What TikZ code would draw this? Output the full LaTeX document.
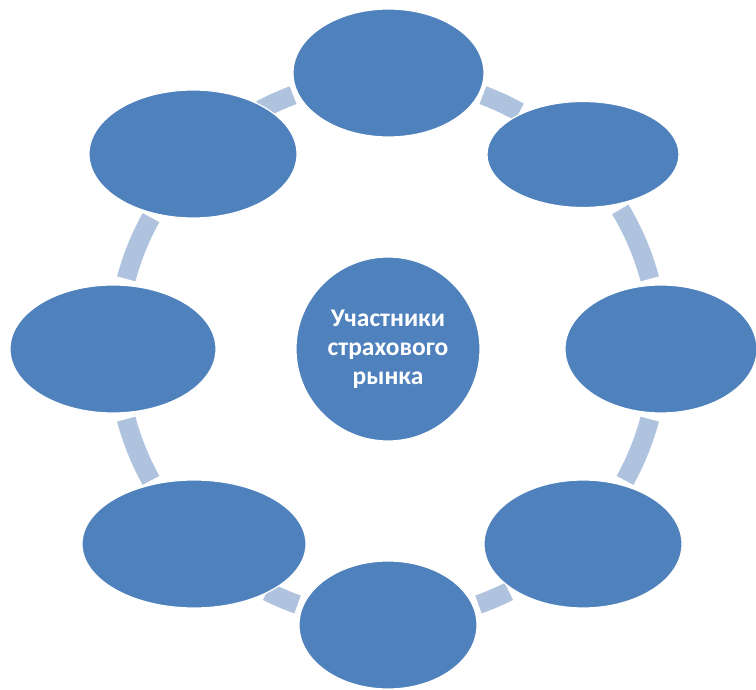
\documentclass[tikz,border=0pt]{standalone}
\usepackage{fontspec}
\setmainfont[BoldFont={Carlito Bold}]{Carlito}
\usetikzlibrary{shapes.geometric}
\definecolor{nodeblue}{RGB}{79,129,189}
\definecolor{ringblue}{RGB}{176,195,222}
\tikzset{
  oval/.style={ellipse, fill=nodeblue, draw=white, line width=1.2pt, inner sep=0pt},
  hub/.style={circle, fill=nodeblue, draw=white, line width=1.2pt, inner sep=0pt, minimum size=184pt,
    text=white, font=\bfseries\fontsize{25.5}{29}\selectfont, align=center},
  ring/.style={draw=ringblue, line width=19pt}
}
\begin{document}
\begin{tikzpicture}[x=1pt,y=1pt]
\useasboundingbox (0,0) rectangle (756,689);
\coordinate (c) at (388,340);
% ring segments
\foreach \a/\b in {61/69.5, 15/31, -29/-15, -70.5/-63.5, 243.5/250.5, 195/209, 151/165, 110.5/118}{
  \draw[ring] (c) ++(\a:271) arc[start angle=\a, end angle=\b, radius=271];
}
% outer ellipses
\node[oval, minimum width=191pt, minimum height=128pt] (top) at (388.5,616) {};
\node[oval, minimum width=192pt, minimum height=106pt] (topright) at (583,534.5) {};
\node[oval, minimum width=192pt, minimum height=128pt] (right) at (661,340) {};
\node[oval, minimum width=198pt, minimum height=128pt] (bottomright) at (583,145) {};
\node[oval, minimum width=178pt, minimum height=128pt] (bottom) at (388,64) {};
\node[oval, minimum width=224pt, minimum height=128pt] (bottomleft) at (194,145) {};
\node[oval, minimum width=206pt, minimum height=128pt] (left) at (113,340) {};
\node[oval, minimum width=208pt, minimum height=128pt] (topleft) at (193,535) {};
% hub
\node[hub] (hub) at (c) {Участники\\страхового\\рынка};
\end{tikzpicture}
\end{document}
